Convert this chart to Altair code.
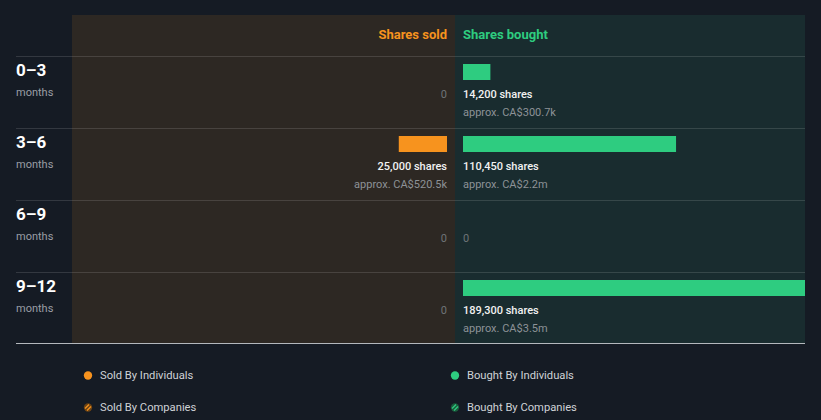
import altair as alt
import pandas as pd

# ---- data ----
periods = ["0–3", "3–6", "6–9", "9–12"]
period_unit = ["months", "months", "months", "months"]
sold_shares = [0, 25000, 0, 0]
sold_value = ["", "CA$520.5k", "", ""]
bought_shares = [14200, 110450, 0, 189300]
bought_value = ["CA$300.7k", "CA$2.2m", "", "CA$3.5m"]
legend_labels = ["Sold By Individuals", "Bought By Individuals",
                 "Sold By Companies", "Bought By Companies"]

ORANGE = "#f7931e"
GREEN = "#2ecc80"
BG = "#151b24"
FONT = "Roboto"

df = pd.DataFrame({
    "period": periods,
    "unit": period_unit,
    "idx": list(range(len(periods))),
    "sold": sold_shares,
    "sold_val": sold_value,
    "bought": bought_shares,
    "bought_val": bought_value,
})
df["sold_lbl"] = [f"{v:,} shares" for v in sold_shares]
df["bought_lbl"] = [f"{v:,} shares" for v in bought_shares]
df["sold_approx"] = ["approx. " + v if v else "" for v in sold_value]
df["bought_approx"] = ["approx. " + v if v else "" for v in bought_value]
df["zero"] = 0

yscale = alt.Scale(domain=[0, 4], range=[56, 344], nice=False, zero=False)
bscale = alt.Scale(domain=[0, 177300], range=[463, 805], clamp=True, nice=False)
sscale = alt.Scale(domain=[0, 177300], range=[447, 105], clamp=True, nice=False)

Yrow = alt.Y("idx:Q", scale=yscale, axis=None)
base = alt.Chart(df)

# panels
panels = alt.Chart(pd.DataFrame({
    "x": [72, 455], "x2": [455, 805], "c": ["#2d2823", "#192c2f"]
})).mark_rect().encode(
    x=alt.X("x:Q", scale=None), x2="x2:Q",
    y=alt.value(15), y2=alt.value(343),
    color=alt.Color("c:N", scale=None, legend=None),
)

# separators
seps = base.mark_rule(color="#ffffff", opacity=0.13, yOffset=0.5).encode(
    y=Yrow, x=alt.value(16), x2=alt.value(805))
bottom = alt.Chart(pd.DataFrame({"a": [0]})).mark_rule(color="#b4b8bd", strokeWidth=1).encode(
    y=alt.value(343.5), x=alt.value(16), x2=alt.value(805))

# headers
hdr_sold = alt.Chart(pd.DataFrame({"t": ["Shares sold"]})).mark_text(
    align="right", baseline="middle", font=FONT, fontSize=13, fontWeight="bold", color=ORANGE
).encode(text="t:N", x=alt.value(447), y=alt.value(35))
hdr_bought = alt.Chart(pd.DataFrame({"t": ["Shares bought"]})).mark_text(
    align="left", baseline="middle", font=FONT, fontSize=13, fontWeight="bold", color=GREEN
).encode(text="t:N", x=alt.value(463), y=alt.value(35))

# row labels
row_lbl = base.mark_text(align="left", baseline="middle", font=FONT, fontSize=17,
                         fontWeight="bold", color="#ffffff", dy=15).encode(
    x=alt.value(16), y=Yrow, text="period:N")
row_unit = base.mark_text(align="left", baseline="middle", font=FONT, fontSize=11,
                          color="#9a9ea5", dy=37).encode(
    x=alt.value(16), y=Yrow, text="unit:N")

# bars
bought_bars = base.transform_filter("datum.bought > 0").mark_bar(
    color=GREEN, yOffset=8, y2Offset=24).encode(
    x=alt.X("bought:Q", scale=bscale, axis=None), x2=alt.X2("zero:Q"),
    y=Yrow, y2=alt.Y2("idx:Q"))
sold_bars = base.transform_filter("datum.sold > 0").mark_bar(
    color=ORANGE, yOffset=8, y2Offset=24).encode(
    x=alt.X("sold:Q", scale=sscale, axis=None), x2=alt.X2("zero:Q"),
    y=Yrow, y2=alt.Y2("idx:Q"))

# labels
bought_txt = base.transform_filter("datum.bought > 0").mark_text(
    align="left", baseline="middle", font=FONT, fontSize=11, fontWeight=500,
    color="#f2f2f2", dy=39).encode(
    x=alt.X("zero:Q", scale=bscale, axis=None), y=Yrow, text="bought_lbl:N")
bought_apx = base.transform_filter("datum.bought > 0").mark_text(
    align="left", baseline="middle", font=FONT, fontSize=11,
    color="#8d9297", dy=57).encode(
    x=alt.X("zero:Q", scale=bscale, axis=None), y=Yrow, text="bought_approx:N")
bought_zero = base.transform_filter("datum.bought == 0").mark_text(
    align="left", baseline="middle", font=FONT, fontSize=11,
    color="#6f7478", dy=39).encode(
    x=alt.X("zero:Q", scale=bscale, axis=None), y=Yrow, text="zero:Q")

sold_txt = base.transform_filter("datum.sold > 0").mark_text(
    align="right", baseline="middle", font=FONT, fontSize=11, fontWeight=500,
    color="#f2f2f2", dy=39).encode(
    x=alt.X("zero:Q", scale=sscale, axis=None), y=Yrow, text="sold_lbl:N")
sold_apx = base.transform_filter("datum.sold > 0").mark_text(
    align="right", baseline="middle", font=FONT, fontSize=11,
    color="#8d9297", dy=57).encode(
    x=alt.X("zero:Q", scale=sscale, axis=None), y=Yrow, text="sold_approx:N")
sold_zero = base.transform_filter("datum.sold == 0").mark_text(
    align="right", baseline="middle", font=FONT, fontSize=11,
    color="#6f7478", dy=39).encode(
    x=alt.X("zero:Q", scale=sscale, axis=None), y=Yrow, text="zero:Q")

# legend
leg = pd.DataFrame({
    "label": legend_labels,
    "px": [88, 455, 88, 455],
    "py": [375.5, 375.5, 407.5, 407.5],
    "fill": [ORANGE, GREEN, "#6a4214", "#1b5a3c"],
    "stripe": [ORANGE, GREEN, ORANGE, GREEN],
})
leg_dots = alt.Chart(leg).mark_point(filled=True, shape="circle", size=70, opacity=1).encode(
    x=alt.X("px:Q", scale=None), y=alt.Y("py:Q", scale=None),
    color=alt.Color("fill:N", scale=None, legend=None))
leg_txt = alt.Chart(leg).mark_text(align="left", baseline="middle", font=FONT,
                                   fontSize=11.2, color="#cfd2d6", dx=12).encode(
    x=alt.X("px:Q", scale=None), y=alt.Y("py:Q", scale=None), text="label:N")
stripes = alt.Chart(leg.iloc[2:]).transform_calculate(
    x1="datum.px - 3", x2b="datum.px + 1", y1="datum.py + 1", y2b="datum.py - 3",
).mark_rule(strokeWidth=1.3).encode(
    x=alt.X("x1:Q", scale=None), x2="x2b:Q",
    y=alt.Y("y1:Q", scale=None), y2="y2b:Q",
    color=alt.Color("stripe:N", scale=None, legend=None))
stripes2 = alt.Chart(leg.iloc[2:]).transform_calculate(
    x3="datum.px - 1", x4="datum.px + 3", y3="datum.py + 3", y4="datum.py - 1",
).mark_rule(strokeWidth=1.3).encode(
    x=alt.X("x3:Q", scale=None), x2="x4:Q",
    y=alt.Y("y3:Q", scale=None), y2="y4:Q",
    color=alt.Color("stripe:N", scale=None, legend=None))

chart = alt.layer(
    panels, seps, bottom, hdr_sold, hdr_bought, row_lbl, row_unit,
    bought_bars, sold_bars, bought_txt, bought_apx, bought_zero,
    sold_txt, sold_apx, sold_zero, leg_dots, leg_txt, stripes, stripes2,
).resolve_scale(x="independent", y="independent", color="independent").properties(
    width=821, height=420, padding=0, autosize="none", background=BG,
).configure_view(stroke=None)

chart.save("out.html", embed_options={"renderer": "svg", "actions": False})
